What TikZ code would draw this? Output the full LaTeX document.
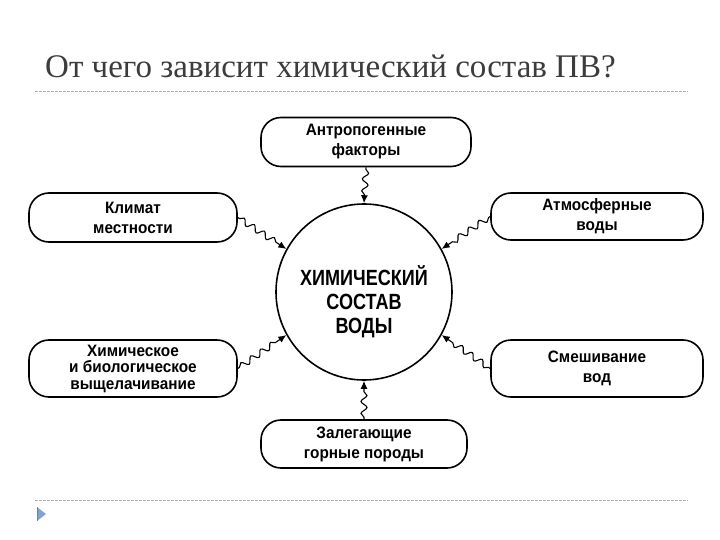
\documentclass[tikz,border=0pt]{standalone}
\usepackage{fontspec}
\setmainfont{Liberation Serif}
\newfontfamily\boxfont{Liberation Sans}[FakeStretch=0.93]
\newfontfamily\circfont{Liberation Sans}[FakeStretch=0.82]
\usetikzlibrary{arrows.meta,decorations.pathmorphing}
\definecolor{titlegray}{RGB}{60,60,60}
\definecolor{rulegray}{RGB}{175,175,175}
\definecolor{bulletblue}{RGB}{125,165,210}

\tikzset{
  factor/.style={draw, line width=1.6pt, rounded corners=20pt,
    minimum width=208pt, minimum height=49pt, inner sep=0pt,
    align=center, font=\boxfont\bfseries\fontsize{16.5}{20}\selectfont},
  wave/.style={line width=1.1pt, -{Latex[length=8pt,width=7pt]}, decorate,
    decoration={snake, amplitude=3pt, segment length=12pt,
      pre length=2pt, post length=8pt}},
  rule/.style={rulegray, line width=0.8pt, dash pattern=on 3pt off 1pt}
}

\begin{document}
\begin{tikzpicture}[x=1pt, y=-1pt]
  \useasboundingbox (0,0) rectangle (720,540);

  % heading and slide rules
  \node[anchor=base west, inner sep=0pt, text=titlegray,
    font=\fontsize{33}{33}\selectfont] (title) at (45,78)
    {От чего зависит химический состав ПВ?};
  \draw[rule] (35,91) -- (688,91);
  \draw[rule] (35,500) -- (688,500);
  \fill[bulletblue] (37,507) -- (46,514) -- (37,521) -- cycle;
  \draw[gray, line width=0.6pt] (37,507) -- (37,521);

  % central circle
  \node[draw, circle, line width=1.6pt, minimum size=176pt, inner sep=0pt]
    (sostav) at (364,292) {};
  \node[align=center, inner sep=0pt,
    font=\circfont\bfseries\fontsize{22}{24}\selectfont]
    (sostavtxt) at (364,302) {ХИМИЧЕСКИЙ\\СОСТАВ\\ВОДЫ};

  % factors
  \node[factor, minimum width=210pt] (antro) at (366,142)
    {Антропогенные\\факторы};
  \node[factor] (klimat) at (133,217.5) {Климат\\местности};
  \node[factor, minimum width=212pt, minimum height=47pt] (atmo) at (597,216.5)
    {Атмосферные\\воды};
  \node[factor, minimum height=57pt, font=\boxfont\bfseries\fontsize{16.5}{16.5}\selectfont]
    (vyshch) at (133,368.5)
    {Химическое\\и биологическое\\выщелачивание};
  \node[factor, minimum width=212pt, minimum height=57pt] (smesh) at (597,368.5)
    {Смешивание\\вод};
  \node[factor, minimum width=206pt, minimum height=48pt] (porody) at (364,444)
    {Залегающие\\горные породы};

  % wavy arrows
  \draw[wave] (antro.south) -- (sostav.north);
  \draw[wave] (klimat.east) -- (sostav.151);
  \draw[wave] (atmo.west) -- (sostav.29);
  \draw[wave] (vyshch.east) -- (sostav.-151);
  \draw[wave] (smesh.west) -- (sostav.-29);
  \draw[wave] (porody.north) -- (sostav.south);
\end{tikzpicture}
\end{document}
